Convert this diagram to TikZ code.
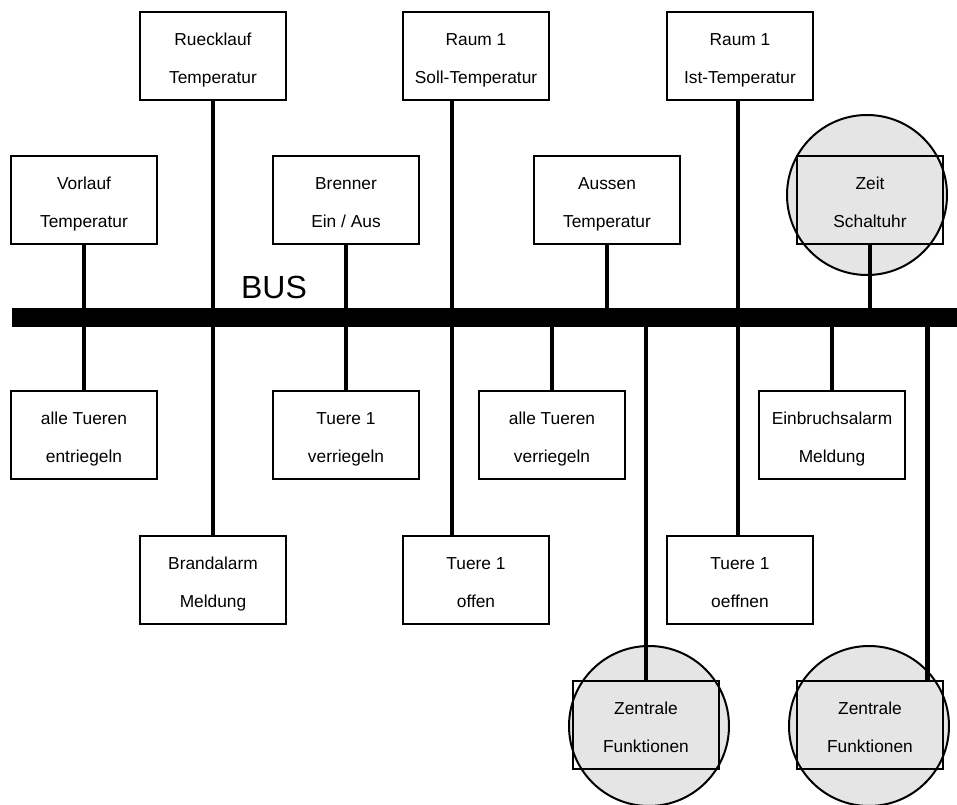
\documentclass[tikz,border=0pt]{standalone}
\usepackage{fontspec}
\setmainfont{Liberation Sans}
\definecolor{cgray}{gray}{0.9}
\begin{document}
\begin{tikzpicture}[x=0.75pt,y=-0.75pt,
  box/.style={draw, line width=1.5pt, minimum width=109pt, minimum height=66pt,
    inner sep=0pt, align=center, text height=43.9pt, text depth=3pt,
    font=\fontsize{13}{28.5}\selectfont},
  ring/.style={circle, draw, fill=cgray, line width=1.5pt, minimum size=120pt, inner sep=0pt},
  thickstem/.style={line width=3.4pt},
  thinstem/.style={line width=2.3pt}]
\useasboundingbox (0,0) rectangle (957,805);
% highlight rings
\node[ring] (zeitc) at (867,195) {};
\node[ring] (z1c) at (649,726) {};
\node[ring] (z2c) at (869,726) {};
% top row
\node[box] (ruck) at (213,56) {Ruecklauf\\Temperatur};
\node[box] (soll) at (476,56) {Raum 1\\Soll-Temperatur};
\node[box] (ist) at (740,56) {Raum 1\\Ist-Temperatur};
% second row
\node[box] (vor) at (84,200) {Vorlauf\\Temperatur};
\node[box] (bren) at (346,200) {Brenner\\Ein / Aus};
\node[box] (auss) at (607,200) {Aussen\\Temperatur};
\node[box] (zeit) at (870,200) {Zeit\\Schaltuhr};
% third row
\node[box] (ent) at (84,435) {alle Tueren\\entriegeln};
\node[box] (tv) at (346,435) {Tuere 1\\verriegeln};
\node[box] (allv) at (552,435) {alle Tueren\\verriegeln};
\node[box] (einb) at (832,435) {Einbruchsalarm\\Meldung};
% fourth row
\node[box] (brand) at (213,580) {Brandalarm\\Meldung};
\node[box] (offen) at (476,580) {Tuere 1\\offen};
\node[box] (oeff) at (740,580) {Tuere 1\\oeffnen};
% central functions
\node[box] (z1) at (646,725) {Zentrale\\Funktionen};
\node[box] (z2) at (870,725) {Zentrale\\Funktionen};
% bus
\node[fill=black, minimum width=708.75pt, minimum height=14pt, inner sep=0pt] (bus) at (484.5,317.5) {};
\node[font=\fontsize{24}{24}\selectfont] (buslabel) at (274,287) {BUS};
% stems
\coordinate (sollS) at ([xshift=-18pt]soll.south);
\coordinate (offN) at ([xshift=-18pt]offen.north);
\coordinate (istS) at ([xshift=-1.5pt]ist.south);
\coordinate (oeffN) at ([xshift=-1.5pt]oeff.north);
\coordinate (z2N) at ([xshift=43pt]z2.north);
\draw[thickstem] (vor.south) -- (ent.north);
\draw[thickstem] (ruck.south) -- (brand.north);
\draw[thinstem] (bren.south) -- (tv.north);
\draw[thinstem] (sollS) -- (offN);
\draw[thinstem] (istS) -- (oeffN);
\draw[thickstem] (auss.south) -- (auss.south |- bus.center);
\draw[thickstem] (zeit.south) -- (zeit.south |- bus.center);
\draw[thickstem] (allv.north) -- (allv.north |- bus.center);
\draw[thinstem] (einb.north) -- (einb.north |- bus.center);
\draw[thickstem] (z1.north) -- (z1.north |- bus.center);
\draw[thickstem] (z2N) -- (z2N |- bus.center);
\end{tikzpicture}
\end{document}
